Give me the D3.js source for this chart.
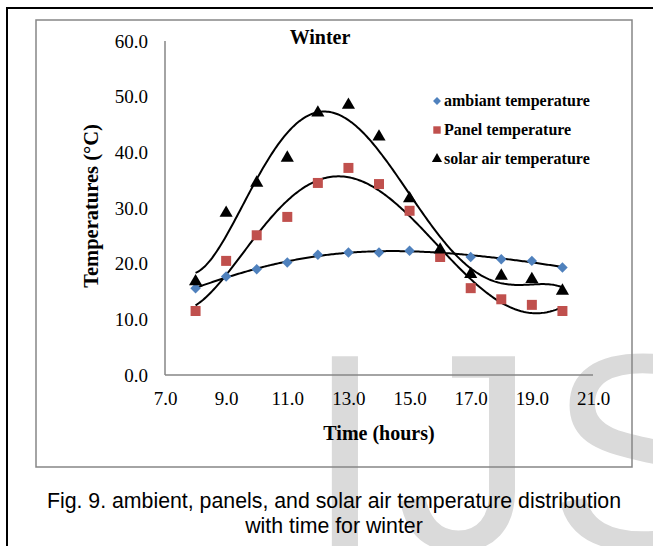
<!DOCTYPE html>
<html>
<head>
<meta charset="utf-8">
<script src="https://cdn.jsdelivr.net/npm/d3@7"></script>
<style>
  body { margin: 0; background: #fff; }
  svg { display: block; }
</style>
</head>
<body>
<div id="chart"></div>
<script>
// hours of the day
const hours = [8, 9, 10, 11, 12, 13, 14, 15, 16, 17, 18, 19, 20];

const ambient = [15.6, 17.7, 19.0, 20.2, 21.6, 22.0, 22.0, 22.3, 22.3, 21.2, 20.8, 20.5, 19.3];
const panel   = [11.5, 20.5, 25.1, 28.4, 34.5, 37.2, 34.3, 29.5, 21.2, 15.6, 13.6, 12.6, 11.5];
const solar   = [16.8, 29.1, 34.5, 39.0, 47.1, 48.5, 42.8, 31.7, 22.5, 18.1, 17.8, 17.2, 15.1];

const xTicks = [7, 9, 11, 13, 15, 17, 19, 21];
const yTicks = [0, 10, 20, 30, 40, 50, 60];

const legendLabels = ["ambiant temperature", "Panel temperature", "solar air temperature"];

const W = 653, H = 546;
const serif = "'Liberation Serif', 'Times New Roman', serif";

const svg = d3.select("#chart").append("svg")
    .attr("width", W)
    .attr("height", H);

// watermark in the background
svg.append("text")
    .attr("x", 306)
    .attr("y", 549)
    .attr("font-family", "'Liberation Sans', Arial, sans-serif")
    .attr("font-size", 280)
    .attr("letter-spacing", 12)
    .attr("fill", "#dadada")
    .text("IJS");

// page border (black) on the top and left
svg.append("path")
    .attr("d", `M7,${H} L7,8 L${W},8`)
    .attr("fill", "none")
    .attr("stroke", "#000")
    .attr("stroke-width", 2);

// chart frame
svg.append("rect")
    .attr("x", 36).attr("y", 20)
    .attr("width", 596).attr("height", 447)
    .attr("fill", "none")
    .attr("stroke", "#868686")
    .attr("stroke-width", 1.5);

// scales
const x = d3.scaleLinear().domain([7, 21]).range([165, 593]);
const y = d3.scaleLinear().domain([0, 60]).range([375, 41]);

// axes
const xAxis = svg.append("g")
    .attr("transform", `translate(0, ${y(0)})`)
    .call(d3.axisBottom(x).tickValues(xTicks).tickSize(0).tickPadding(17)
        .tickFormat(d3.format(".1f")));
const yAxis = svg.append("g")
    .attr("transform", `translate(${x(7)}, 0)`)
    .call(d3.axisLeft(y).tickValues(yTicks).tickSize(0).tickPadding(17)
        .tickFormat(d3.format(".1f")));

[xAxis, yAxis].forEach(g => {
    g.select(".domain").attr("stroke", "#868686").attr("stroke-width", 1.5);
    g.selectAll(".tick text")
        .attr("font-family", serif)
        .attr("font-size", 19)
        .attr("fill", "#000");
});
xAxis.select(".domain").attr("d", `M${x(7)},0H${x(21)}`);
yAxis.select(".domain").attr("d", `M0,${y(60)}V${y(0)}`);

// axis titles
svg.append("text")
    .attr("x", 379).attr("y", 440)
    .attr("text-anchor", "middle")
    .attr("font-family", serif).attr("font-weight", "bold").attr("font-size", 20)
    .text("Time (hours)");

svg.append("text")
    .attr("transform", "translate(98, 206) rotate(-90)")
    .attr("text-anchor", "middle")
    .attr("font-family", serif).attr("font-weight", "bold").attr("font-size", 20.5)
    .text("Temperatures (°C)");

// chart title
svg.append("text")
    .attr("x", 320).attr("y", 44)
    .attr("text-anchor", "middle")
    .attr("font-family", serif).attr("font-weight", "bold").attr("font-size", 20)
    .text("Winter");

// least squares polynomial trendline (like excel's)
function polyFit(xs, ys, order) {
    const n = order + 1;
    const A = [];
    for (let i = 0; i < n; i++) {
        A.push(new Array(n + 1).fill(0));
    }
    xs.forEach((xv, k) => {
        const t = (xv - 14) / 6;
        for (let i = 0; i < n; i++) {
            for (let j = 0; j < n; j++) A[i][j] += Math.pow(t, i + j);
            A[i][n] += ys[k] * Math.pow(t, i);
        }
    });
    for (let c = 0; c < n; c++) {
        let p = c;
        for (let r = c + 1; r < n; r++) if (Math.abs(A[r][c]) > Math.abs(A[p][c])) p = r;
        [A[c], A[p]] = [A[p], A[c]];
        for (let r = 0; r < n; r++) {
            if (r === c) continue;
            const f = A[r][c] / A[c][c];
            for (let k = c; k <= n; k++) A[r][k] -= f * A[c][k];
        }
    }
    const coef = A.map((row, i) => row[n] / row[i]);
    return xv => coef.reduce((s, cf, i) => s + cf * Math.pow((xv - 14) / 6, i), 0);
}

const line = d3.line().x(d => x(d[0])).y(d => y(d[1]));
const samples = d3.range(8, 20.001, 0.05);

[ambient, panel, solar].forEach(vals => {
    const f = polyFit(hours, vals, 5);
    svg.append("path")
        .datum(samples.map(h => [h, f(h)]))
        .attr("d", line)
        .attr("fill", "none")
        .attr("stroke", "#000")
        .attr("stroke-width", 2);
});

// markers
const diamond = d3.symbol().type(d3.symbolDiamond2).size(70);
const square = d3.symbol().type(d3.symbolSquare).size(100);
const triangle = d3.symbol().type(d3.symbolTriangle).size(75);

function drawPoints(vals, sym, color) {
    svg.append("g").selectAll("path")
        .data(hours.map((h, i) => [h, vals[i]]))
        .join("path")
        .attr("transform", d => `translate(${x(d[0])}, ${y(d[1])})`)
        .attr("d", sym)
        .attr("fill", color);
}
drawPoints(ambient, diamond, "#4f81bd");
drawPoints(panel, square, "#c0504d");
drawPoints(solar, triangle, "#000");

// legend
const legendSyms = [
    d3.symbol().type(d3.symbolDiamond2).size(40),
    d3.symbol().type(d3.symbolSquare).size(55),
    d3.symbol().type(d3.symbolTriangle).size(45)
];
const legendColors = ["#4f81bd", "#c0504d", "#000"];
const legend = svg.append("g");
legendLabels.forEach((lab, i) => {
    const ly = 101 + i * 29;
    legend.append("path")
        .attr("transform", `translate(437, ${ly})`)
        .attr("d", legendSyms[i])
        .attr("fill", legendColors[i]);
    legend.append("text")
        .attr("x", 444).attr("y", ly + 5)
        .attr("font-family", serif).attr("font-weight", "bold").attr("font-size", 16)
        .text(lab);
});

// caption
const caption = ["Fig. 9. ambient, panels, and solar air temperature distribution",
                 "with time for winter"];
caption.forEach((c, i) => {
    svg.append("text")
        .attr("x", 334).attr("y", 508 + i * 25)
        .attr("text-anchor", "middle")
        .attr("font-family", "'Liberation Sans', Arial, sans-serif")
        .attr("font-size", 21.3)
        .text(c);
});
</script>
</body>
</html>
